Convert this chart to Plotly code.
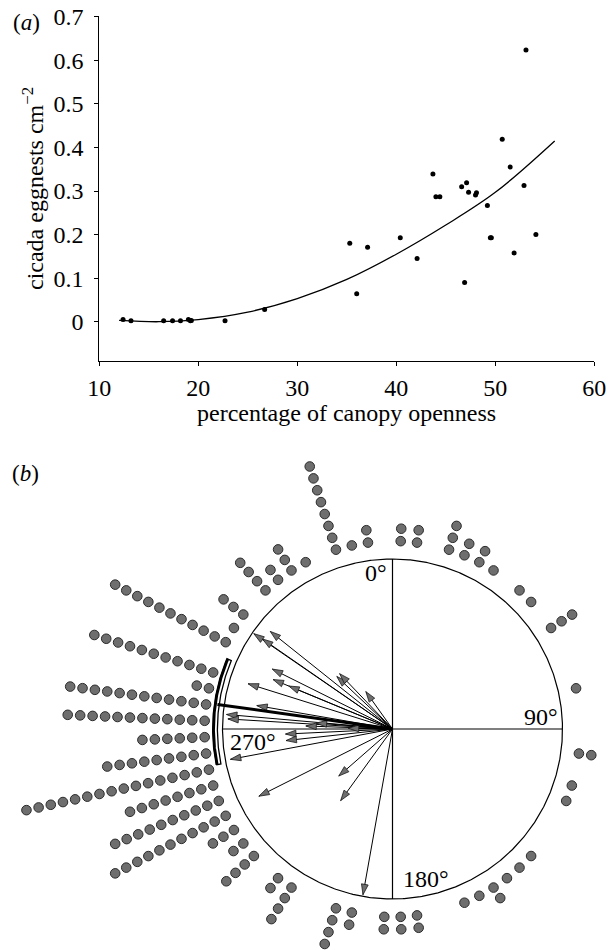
import numpy as np
import plotly.graph_objects as go

# ---------------- panel (a) data ----------------
canopy_open = [12.4, 13.2, 16.5, 17.4, 18.2, 19.0, 19.2, 19.3, 22.7, 26.7, 35.3, 36.0, 37.1,
               40.4, 42.1, 43.7, 44.0, 44.4, 46.6, 46.9, 47.1, 47.3, 48.0, 48.1, 49.2, 49.5,
               49.6, 50.7, 51.5, 51.9, 52.9, 53.1, 54.1]
eggnests = [0.005, 0.002, 0.002, 0.002, 0.002, 0.005, 0.002, 0.003, 0.002, 0.028, 0.180, 0.064,
            0.171, 0.193, 0.145, 0.339, 0.287, 0.287, 0.310, 0.090, 0.319, 0.297, 0.291, 0.296,
            0.267, 0.193, 0.193, 0.419, 0.355, 0.158, 0.313, 0.624, 0.200]
fit_x = [12, 16, 20, 25, 30, 35, 40, 45, 50, 56]
fit_y = [0.003, 0.0, 0.005, 0.022, 0.053, 0.097, 0.155, 0.222, 0.297, 0.415]
x_ticks = [10, 20, 30, 40, 50, 60]
y_ticks = [0, 0.1, 0.2, 0.3, 0.4, 0.5, 0.6, 0.7]
y_ticktext = ["0", "0.1", "0.2", "0.3", "0.4", "0.5", "0.6", "0.7"]

# ---------------- panel (b) data ----------------
bin_deg = [2.5, 7.5, 17.5, 22.5, 27.5, 32.5, 42.5, 47.5, 57.5, 77.5, 97.5, 107.5, 112.5,
           132.5, 137.5, 142.5, 147.5, 152.5, 157.5, 172.5, 177.5, 182.5, 192.5, 197.5,
           212.5, 217.5, 227.5, 232.5, 237.5, 242.5, 247.5, 252.5, 257.5, 262.5, 267.5,
           272.5, 277.5, 282.5, 287.5, 297.5, 302.5, 307.5, 317.5, 322.5, 327.5, 332.5,
           342.5, 347.5, 352.5]
bin_count = [2, 2, 3, 2, 2, 1, 1, 1, 3, 1, 2, 1, 1,
             1, 1, 1, 2, 1, 1, 2, 2, 2, 2, 4,
             4, 2, 4, 2, 3, 11, 10, 8, 16, 9, 6,
             12, 12, 2, 11, 11, 1, 3, 4, 2, 3, 1,
             8, 1, 2]
arrow_deg = [304.5, 304.7, 308.6, 296.5, 287.4, 292.5, 292.5, 313.3, 316.3, 324.5, 279.8,
             275.0, 273.5, 272.0, 274.5, 271.0, 267.3, 263.8, 259.4, 243.3, 228.8, 215.9, 190.1]
arrow_len = [0.99, 0.93, 0.92, 0.79, 0.89, 0.76, 0.66, 0.45, 0.45, 0.27, 0.81,
             0.98, 0.97, 0.51, 0.45, 0.26, 0.63, 0.63, 0.97, 0.88, 0.42, 0.52, 0.99]
mean_deg = 278.0
mean_len = 1.04
ci_deg = [258.5, 293.0]
compass_labels = ["0°", "90°", "180°", "270°"]

FONT = "Times New Roman, Liberation Serif, Times, serif"
W, H = 609, 950
GRAY = "#6e6e6e"


def pol(deg, r):
    t = np.deg2rad(np.asarray(deg, dtype=float))
    return r * np.sin(t), r * np.cos(t)


fig = go.Figure()

# ---- (a) ----
fig.add_trace(go.Scatter(x=fit_x, y=fit_y, mode="lines", line=dict(color="black", width=1.3, shape="spline"),
                         xaxis="x", yaxis="y", hoverinfo="skip"))
fig.add_trace(go.Scatter(x=canopy_open, y=eggnests, mode="markers",
                         marker=dict(color="black", size=5), xaxis="x", yaxis="y"))

# ---- (b) ----
tt = np.linspace(0, 360, 721)
cx, cy = pol(tt, 1.0)
fig.add_trace(go.Scatter(x=cx, y=cy, mode="lines", line=dict(color="black", width=1.2),
                         xaxis="x2", yaxis="y2", hoverinfo="skip"))
fig.add_trace(go.Scatter(x=[0, 0, None, -1, 1], y=[1, -1, None, 0, 0], mode="lines",
                         line=dict(color="black", width=1.2), xaxis="x2", yaxis="y2", hoverinfo="skip"))

# arrows
ax_, ay_ = [], []
tx, ty = pol(arrow_deg, np.array(arrow_len))
for a, b in zip(tx, ty):
    ax_ += [0, a, None]
    ay_ += [0, b, None]
fig.add_trace(go.Scatter(x=ax_, y=ay_, mode="lines", line=dict(color="black", width=1),
                         xaxis="x2", yaxis="y2", hoverinfo="skip"))
fig.add_trace(go.Scatter(x=tx, y=ty, mode="markers",
                         marker=dict(symbol="arrow", angle=arrow_deg, size=11, color=GRAY,
                                     line=dict(color="#1a1a1a", width=0.8)),
                         xaxis="x2", yaxis="y2", hoverinfo="skip"))

# mean vector
mx, my = pol(mean_deg, mean_len)
fig.add_trace(go.Scatter(x=[0, float(mx)], y=[0, float(my)], mode="lines",
                         line=dict(color="black", width=3), xaxis="x2", yaxis="y2", hoverinfo="skip"))

# confidence bracket
ca = np.linspace(ci_deg[0], ci_deg[1], 80)
ox, oy = pol(ca, 1.058)
ix, iy = pol(ca[::-1], 1.03)
bx = np.concatenate([ox, ix, ox[:1]])
by = np.concatenate([oy, iy, oy[:1]])
fig.add_trace(go.Scatter(x=bx, y=by, mode="lines", line=dict(color="black", width=1.3),
                         xaxis="x2", yaxis="y2", hoverinfo="skip"))
ox2, oy2 = pol(ca, 1.052)
fig.add_trace(go.Scatter(x=ox2, y=oy2, mode="lines", line=dict(color="black", width=2.6),
                         xaxis="x2", yaxis="y2", hoverinfo="skip"))

# stacked dots
R0, DR = 1.106, 0.0733
dxs, dys = [], []
for d, n in zip(bin_deg, bin_count):
    for k in range(n):
        px, py = pol(d, R0 + k * DR)
        dxs.append(float(px))
        dys.append(float(py))
fig.add_trace(go.Scatter(x=dxs, y=dys, mode="markers",
                         marker=dict(color=GRAY, size=9.6, line=dict(color="#2b2b2b", width=1)),
                         xaxis="x2", yaxis="y2", hoverinfo="skip"))

# ---- layout ----
CX, CY, S = 392.5, 729.0, 170.0
top_b = 440.0
axis_font = dict(family=FONT, size=24, color="black")

fig.update_layout(
    template="none",
    width=W, height=H, margin=dict(l=0, r=0, t=0, b=0, pad=0), autosize=False,
    paper_bgcolor="white", plot_bgcolor="white", showlegend=False,
    font=dict(family=FONT, size=22, color="black"),
    xaxis=dict(domain=[99.3 / W, 594.3 / W], range=[10, 60], tickvals=x_ticks,
               showline=True, linecolor="black", linewidth=1.2, ticks="outside", ticklen=4,
               tickcolor="black", tickwidth=1.2, showgrid=False, zeroline=False,
               tickfont=axis_font, anchor="y", ticklabelstandoff=1, automargin=False),
    yaxis=dict(domain=[1 - 360.7 / H, 1 - 15.5 / H], range=[-0.0895, 0.703], tickvals=y_ticks,
               ticktext=y_ticktext, showline=True, linecolor="black", linewidth=1.2,
               ticks="outside", ticklen=4, tickcolor="black", tickwidth=1.2, showgrid=False,
               zeroline=False, tickfont=axis_font, anchor="x", ticklabelstandoff=6, automargin=False),
    xaxis2=dict(domain=[0, 1], range=[(0 - CX) / S, (W - CX) / S], visible=False, anchor="y2",
                automargin=False),
    yaxis2=dict(domain=[0, 1 - top_b / H], range=[(CY - H) / S, (CY - top_b) / S], visible=False,
                anchor="x2", automargin=False),
)

ann = []
ann.append(dict(text="(<i>a</i>)", x=26 / W, y=1 - 22 / H, xref="paper", yref="paper",
                xanchor="center", yanchor="middle", showarrow=False, font=dict(family=FONT, size=23)))
ann.append(dict(text="(<i>b</i>)", x=25 / W, y=1 - 474 / H, xref="paper", yref="paper",
                xanchor="center", yanchor="middle", showarrow=False, font=dict(family=FONT, size=23)))
ann.append(dict(text="cicada eggnests cm<sup>−2</sup>", textangle=-90, x=33 / W, y=1 - 189 / H,
                xref="paper", yref="paper", xanchor="center", yanchor="middle", showarrow=False,
                font=dict(family=FONT, size=24)))
ann.append(dict(text="percentage of canopy openness", x=(99.3 + 594.3) / 2 / W, y=1 - 413 / H,
                xref="paper", yref="paper", xanchor="center", yanchor="middle", showarrow=False,
                font=dict(family=FONT, size=24)))
# compass labels (in panel-b data units)
lab_pos = [(-0.02, 0.918, "right"), (0.985, 0.07, "right"), (0.05, -0.88, "left"), (-0.97, -0.076, "left")]
for txt, (lx, ly, xa) in zip(compass_labels, lab_pos):
    ann.append(dict(text=txt, x=lx, y=ly, xref="x2", yref="y2", xanchor=xa, yanchor="middle",
                    showarrow=False, font=dict(family=FONT, size=24)))
fig.update_layout(annotations=ann)

fig.write_html("out.html", config={"displayModeBar": False},
               post_script="document.body.style.margin='0px';document.body.style.overflow='hidden';")
